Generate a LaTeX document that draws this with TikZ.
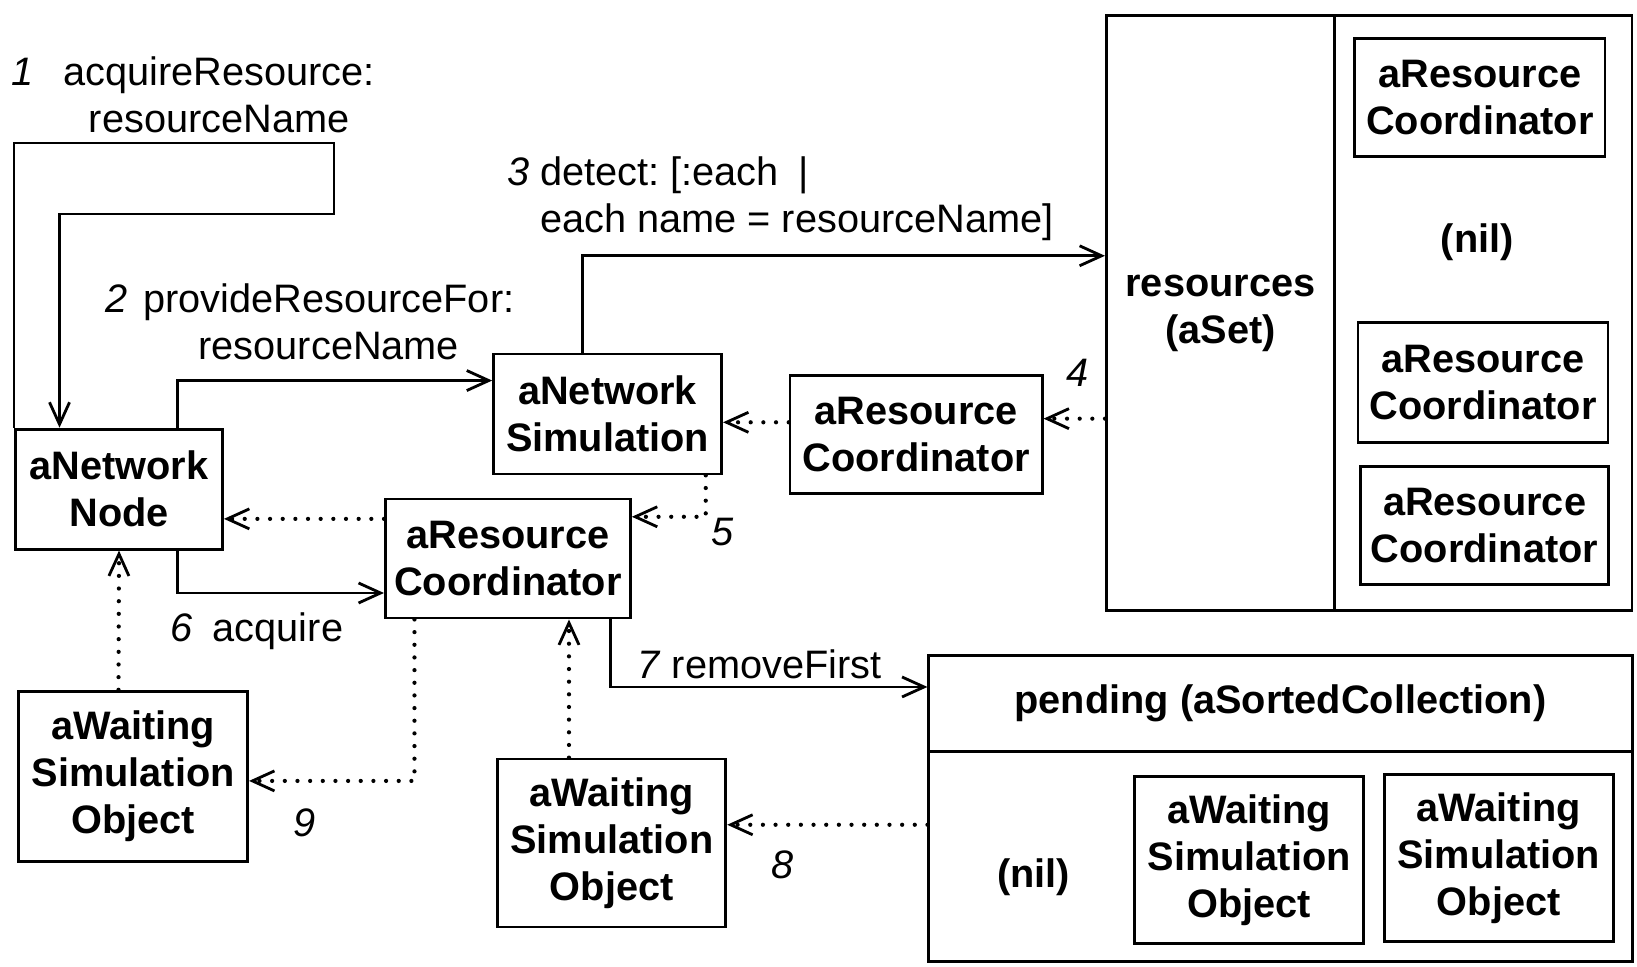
\documentclass[tikz,border=0pt]{standalone}
\usepackage{fontspec}
\setmainfont{Liberation Sans}
\usepackage{tikz}
\usetikzlibrary{calc,positioning,arrows.meta}

\newcommand{\diafont}{\fontsize{11.3}{13.4}\selectfont}
\tikzset{
  obj/.style={draw, line width=0.8pt, font=\diafont\bfseries, align=center, inner sep=0pt},
  msg/.style={line width=0.8pt, -{Straight Barb[length=2.2mm,width=2mm,line width=0.8pt]}},
  ret/.style={line width=1.2pt, line cap=round, dash pattern=on 0pt off 3.6pt,
    -{Straight Barb[length=2.2mm,width=2mm,line width=0.8pt]}},
  lbl/.style={align=center, inner sep=0pt, font=\diafont},
  num/.style={font=\diafont\itshape, inner sep=0pt}
}
\frenchspacing

\begin{document}
\begin{tikzpicture}[x=0.01044cm, y=-0.01044cm, font=\diafont]
\useasboundingbox (0,0) rectangle (1568,926);
% objects on the left
\node[obj, minimum width=2.07cm, minimum height=1.20cm] (netnode) at (114,468.5) {aNetwork\\Node};
\node[obj, minimum width=2.28cm, minimum height=1.20cm] (netsim) at (582,396.5) {aNetwork\\Simulation};
\node[obj, minimum width=2.52cm, minimum height=1.18cm] (rcmid) at (877.5,416.5) {aResource\\Coordinator};
\node[obj, minimum width=2.45cm, minimum height=1.19cm] (rclow) at (486.5,535) {aResource\\Coordinator};
\node[obj, minimum width=2.29cm, minimum height=1.70cm] (waitleft) at (127.5,743.5) {aWaiting\\Simulation\\Object};
\node[obj, minimum width=2.28cm, minimum height=1.68cm] (waitmid) at (586,807.5) {aWaiting\\Simulation\\Object};

% the set of resources
\node[obj, minimum width=2.28cm, minimum height=5.95cm] (resources) at (1169,300) {resources\\(aSet)};
\node[obj, minimum width=2.98cm, minimum height=5.95cm] (setbody) at (1420.5,300) {};
\node[obj, minimum width=2.50cm, minimum height=1.18cm] (setrcA) at (1417.5,93.5) {aResource\\Coordinator};
\node[obj, draw=none] (setnil) at (1415,232) {(nil)};
\node[obj, minimum width=2.50cm, minimum height=1.20cm] (setrcB) at (1420.5,366.5) {aResource\\Coordinator};
\node[obj, minimum width=2.48cm, minimum height=1.18cm] (setrcC) at (1422,503.5) {aResource\\Coordinator};

% the pending collection
\node[obj, minimum width=7.03cm, minimum height=0.96cm] (pendhead) at (1226.5,674) {pending (aSortedCollection)};
\node[obj, minimum width=7.03cm, minimum height=2.10cm] (pendbody) at (1226.5,820.5) {};
\node[obj, draw=none] (pendnil) at (990,840) {(nil)};
\node[obj, minimum width=2.29cm, minimum height=1.67cm] (pendwA) at (1196.5,824) {aWaiting\\Simulation\\Object};
\node[obj, minimum width=2.29cm, minimum height=1.67cm] (pendwB) at (1435.5,822) {aWaiting\\Simulation\\Object};

% messages
\coordinate (loopR) at (320,137);
\coordinate (loopL) at (57,205);
\draw[msg] (netnode.north west) |- (loopR) |- (loopL) -- (loopL |- netnode.north);
\draw[msg] ($(netnode.north)+(56,0)$) |- ($(netsim.west)+(0,-32)$);
\draw[msg] ($(netsim.north)+(-24,0)$) |- ($(resources.west)+(0,-55)$);
\draw[msg] ($(netnode.south)+(56,0)$) |- ($(rclow.west)+(0,33)$);
\draw[msg] ($(rclow.south)+(98.5,0)$) |- ($(pendhead.west)+(0,-16)$);

% replies
\draw[ret] ($(resources.west)+(0,101)$) -- ($(rcmid.east)+(0,-15.5)$);
\draw[ret] ($(rcmid.west)+(0,-12)$) -- ($(netsim.east)+(0,8)$);
\draw[ret] ($(netsim.south)+(94,0)$) |- ($(rclow.east)+(0,-40)$);
\draw[ret] ($(rclow.west)+(0,-38)$) -- ($(netnode.east)+(0,28.5)$);
\draw[ret] ($(waitleft.north)+(-14,0)$) -- (netnode.south);
\draw[ret] ($(rclow.south)+(-89.5,0)$) |- ($(waitleft.east)+(0,4.5)$);
\draw[ret] ($(waitmid.north)+(-41,0)$) -- ($(rclow.south)+(58.5,0)$);
\draw[ret] ($(pendbody.west)+(0,-30.5)$) -- ($(waitmid.east)+(0,-17.5)$);

% labels
\node[lbl] (lbl1) at (210,91) {\llap{\textit{1}\hspace{0.75em}}acquireResource:\\resourceName};
\node[lbl] (lbl2) at (315,308) {\llap{\textit{2}\hspace{0.4em}}provideResourceFor:\\resourceName};
\node[lbl, align=left, anchor=west] (lbl3) at (485,190)
  {\textit{3} detect: [:each\enspace|\\\hphantom{\textit{3} }each name = resourceName]};
\node[lbl, anchor=west] (lbl6) at (163,605) {\textit{6}\enspace acquire};
\node[lbl, anchor=west] (lbl7) at (610,636) {\textit{7} removeFirst};
\node[num] (num4) at (1032,357) {4};
\node[num] (num5) at (692,510) {5};
\node[num] (num8) at (750,828) {8};
\node[num] (num9) at (292,788) {9};
\end{tikzpicture}
\end{document}
